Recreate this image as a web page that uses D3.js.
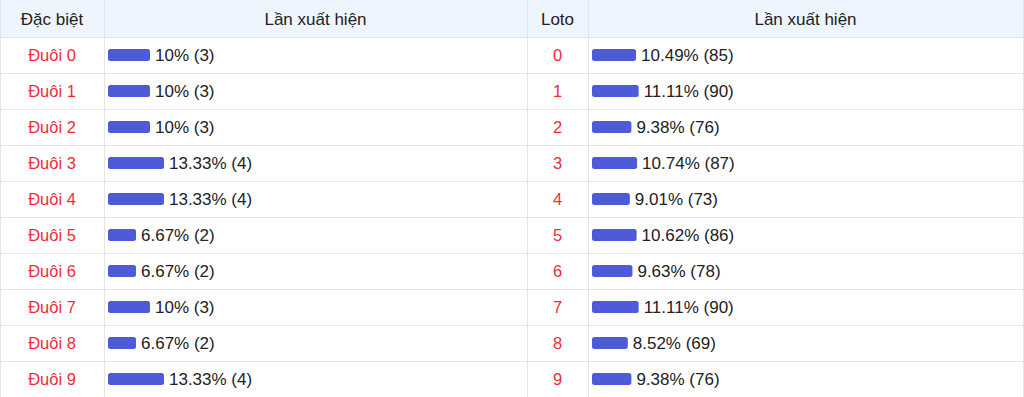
<!DOCTYPE html>
<html><head><meta charset="utf-8">
<script src="https://cdn.jsdelivr.net/npm/d3@7"></script>
<style>
html,body{margin:0;padding:0;background:#fff;}
svg{display:block;font-family:"Liberation Sans",Arial,Helvetica,sans-serif;}
</style></head>
<body>
<svg id="c" width="1024" height="397"></svg>
<script>
const headers = ["Đặc biệt", "Lần xuất hiện", "Loto", "Lần xuất hiện"];
const specialLabels = ["Đuôi 0","Đuôi 1","Đuôi 2","Đuôi 3","Đuôi 4","Đuôi 5","Đuôi 6","Đuôi 7","Đuôi 8","Đuôi 9"];
const specialPct = [10, 10, 10, 13.33, 13.33, 6.67, 6.67, 10, 6.67, 13.33];
const specialCount = [3, 3, 3, 4, 4, 2, 2, 3, 2, 4];
const lotoLabels = ["0","1","2","3","4","5","6","7","8","9"];
const lotoPct = [10.49, 11.11, 9.38, 10.74, 9.01, 10.62, 9.63, 11.11, 8.52, 9.38];
const lotoCount = [85, 90, 76, 87, 73, 86, 78, 90, 69, 76];

const svg = d3.select("#c");
const W = 1024, H = 397;
const colX = [0, 104, 527, 588, 1023];
const headerH = 37, rowH = 36;
const lineColor = "#e4e4e4";

const y = d3.scaleBand().domain(d3.range(10)).range([headerH, headerH + rowH*10]).padding(0);
const w = d3.scaleLinear().domain([0, 100]).range([0, 420]);

// header background
svg.append("rect").attr("x",0).attr("y",0).attr("width",colX[4]).attr("height",headerH).attr("fill","#eef5fe");

// horizontal lines
const hl = [headerH].concat(d3.range(10).map(i => y(i) + rowH));
svg.selectAll("line.h").data(hl).join("line")
  .attr("x1",0).attr("x2",colX[4]).attr("y1",d=>d+0.5).attr("y2",d=>d+0.5)
  .attr("stroke",lineColor).attr("stroke-width",1);
// vertical lines
svg.selectAll("line.v").data(colX).join("line")
  .attr("x1",d=>d+0.5).attr("x2",d=>d+0.5).attr("y1",0).attr("y2",H)
  .attr("stroke",lineColor).attr("stroke-width",1);

// header texts
svg.selectAll("text.hd").data(headers).join("text")
  .attr("x",(d,i)=>(colX[i]+colX[i+1])/2).attr("y",headerH/2+6)
  .attr("text-anchor","middle").attr("font-size",17).attr("fill","#222")
  .text(d=>d);

function drawTable(labels, pct, count, c0, c1) {
  const g = svg.append("g");
  g.selectAll("text.lab").data(labels).join("text")
    .attr("x",(colX[c0]+colX[c0+1])/2).attr("y",(d,i)=>y(i)+rowH/2+6)
    .attr("text-anchor","middle").attr("font-size",16.5).attr("fill","#ee2c38")
    .text(d=>d);
  const bx = colX[c1] + 4;
  g.selectAll("rect.bar").data(pct).join("rect")
    .attr("x",bx).attr("y",(d,i)=>y(i)+rowH/2-6).attr("height",12)
    .attr("width",d=>w(d)).attr("rx",2.5).attr("fill","#4f5ad8");
  g.selectAll("text.val").data(pct).join("text")
    .attr("x",d=>bx + w(d) + 5).attr("y",(d,i)=>y(i)+rowH/2+6)
    .attr("font-size",17).attr("fill","#222")
    .text((d,i)=>d + "% (" + count[i] + ")");
}
drawTable(specialLabels, specialPct, specialCount, 0, 1);
drawTable(lotoLabels, lotoPct, lotoCount, 2, 3);
</script>
</body></html>
